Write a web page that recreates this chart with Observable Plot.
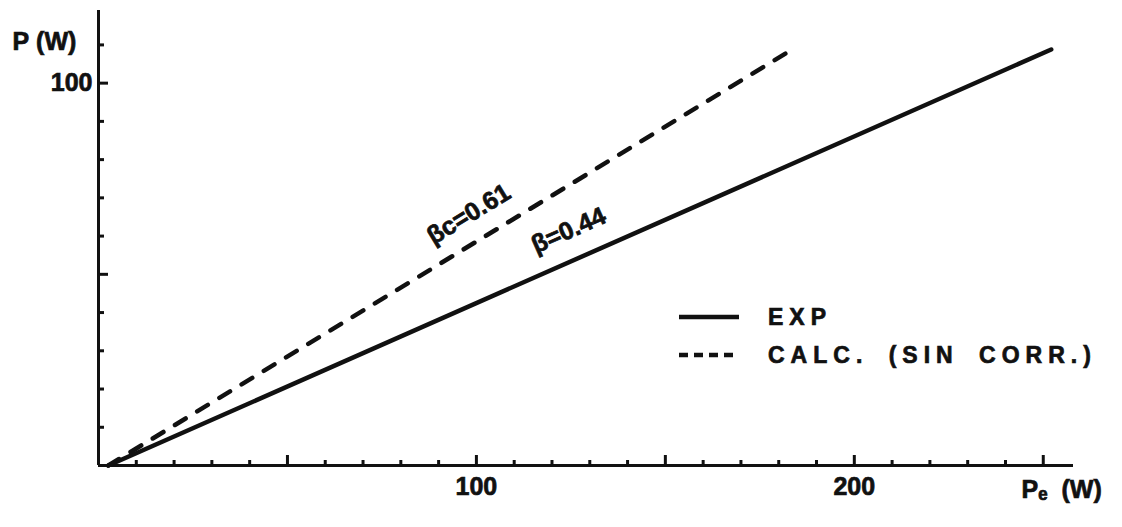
<!DOCTYPE html>
<html><head><meta charset="utf-8">
<script src="https://cdn.jsdelivr.net/npm/d3@7"></script>
<script src="https://cdn.jsdelivr.net/npm/@observablehq/plot@0.6"></script>
<style>
body{margin:0;background:#fff;}
#wrap{position:relative;width:1122px;height:527px;font-family:"Liberation Sans",Arial,sans-serif;font-weight:bold;color:#111;}
#wrap svg text{stroke:#111;stroke-width:0.7px;}
.leg{position:absolute;left:679px;height:26px;display:flex;align-items:center;font-size:23px;letter-spacing:6px;word-spacing:8px;white-space:nowrap;-webkit-text-stroke:0.7px #111;}
.leg svg{margin-right:29px;}
</style></head><body><div id="wrap"></div>
<script>
// Series: endpoints of the two straight lines (Pe in W, P in W)
const expPe = [2.6, 252.1];
const expP = [0, 108.8];
const calcPe = [2.6, 182.2];
const calcP = [0, 108.0];
const seriesNames = ["EXP", "CALC. (SIN CORR.)"];
// Line annotations
const annText = ["βc=0.61", "β=0.44"];
const annPe = [98.0, 124.4];
// Ticks
const xMinorTicks = [10,20,30,40,60,70,80,90,110,120,130,140,160,170,180,190,210,220,230,240];
const xMajorTicks = [50,100,150,200,250];
const xTickLabels = [100, 200];
const yMinorTicks = [10,20,30,40,60,70,80,90,110];
const yMajorTicks = [50,100];
const yTickLabels = [100];

const ink = "#111";
const font = "Liberation Sans, Arial, sans-serif";
const xDomain = [0, 258], yDomain = [0, 119];
const W = 1122, H = 527, mL = 98, mR = 49, mT = 10, mB = 62;

const expData = expPe.map((x, i) => ({x, y: expP[i]}));
const calcData = calcPe.map((x, i) => ({x, y: calcP[i]}));
const lines = [calcData, expData];
const pxPerX = (W - mL - mR) / (xDomain[1] - xDomain[0]);
const pxPerY = (H - mT - mB) / (yDomain[1] - yDomain[0]);
const ann = annText.map((t, i) => {
  const d = lines[i];
  const slope = (d[1].y - d[0].y) / (d[1].x - d[0].x);
  return {t, x: annPe[i], y: d[0].y + slope * (annPe[i] - d[0].x),
          angle: -Math.atan(slope * pxPerY / pxPerX) * 180 / Math.PI};
});

const chart = Plot.plot({
  width: W, height: H,
  marginLeft: mL, marginRight: mR, marginTop: mT, marginBottom: mB,
  x: {domain: xDomain},
  y: {domain: yDomain},
  style: {fontFamily: font, fontWeight: "bold", color: ink, background: "#fff", overflow: "visible"},
  marks: [
    Plot.axisX({ticks: xMinorTicks, tickSize: -5, tickFormat: () => "", strokeWidth: 3, stroke: ink, label: null}),
    Plot.axisX({ticks: xMajorTicks, tickSize: -10, tickFormat: () => "", strokeWidth: 3, stroke: ink, label: null}),
    Plot.axisX({ticks: xTickLabels, tickSize: 0, tickPadding: 12, fontSize: 25, fill: ink, label: null}),
    Plot.axisY({ticks: yMinorTicks, tickSize: -6, tickFormat: () => "", strokeWidth: 3, stroke: ink, label: null}),
    Plot.axisY({ticks: yMajorTicks, tickSize: -10, tickFormat: () => "", strokeWidth: 3, stroke: ink, label: null}),
    Plot.axisY({ticks: yTickLabels, tickSize: 0, tickPadding: 6, fontSize: 25, fill: ink, label: null}),
    Plot.ruleY([0], {stroke: ink, strokeWidth: 3}),
    Plot.ruleX([0], {stroke: ink, strokeWidth: 3}),
    Plot.line(expData, {x: "x", y: "y", stroke: ink, strokeWidth: 4.5, strokeLinecap: "round"}),
    Plot.line(calcData, {x: "x", y: "y", stroke: ink, strokeWidth: 4.5, strokeLinecap: "round", strokeDasharray: "12.5,13.5"}),
    Plot.text(ann, {x: "x", y: "y", text: "t", rotate: "angle", dy: -32, fontSize: 25, fill: ink, letterSpacing: 2}),
    Plot.text(["P\u00a0(W)"], {frameAnchor: "top-left", textAnchor: "start", dx: -86, dy: 22, fontSize: 25, fill: ink, letterSpacing: 3}),
    Plot.text(["Pₑ\u00a0\u00a0(W)"], {frameAnchor: "bottom-right", textAnchor: "start", dx: -52, dy: 32, fontSize: 25, fill: ink, letterSpacing: 3})
  ]
});
const wrap = document.getElementById("wrap");
wrap.appendChild(chart);

// Legend (overlay inside plot area)
const legTops = [304, 342];
const dashes = [null, "9,6"];
seriesNames.forEach((name, i) => {
  const div = document.createElement("div");
  div.className = "leg";
  div.style.top = legTops[i] + "px";
  const sw = `<svg width="60" height="8"><line x1="0" y1="4" x2="60" y2="4" stroke="${ink}" stroke-width="4.5"${dashes[i] ? ` stroke-dasharray="${dashes[i]}"` : ""}/></svg>`;
  div.innerHTML = sw + `<span>${name}</span>`;
  wrap.appendChild(div);
});
</script></body></html>
